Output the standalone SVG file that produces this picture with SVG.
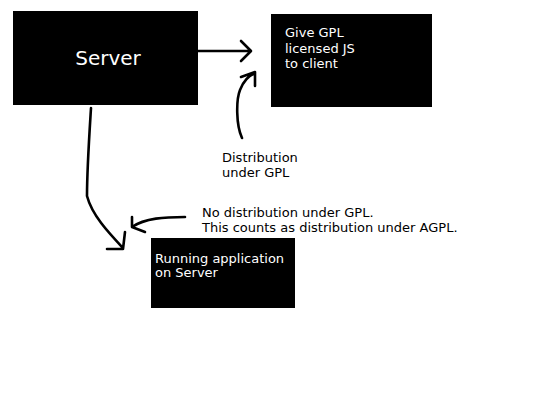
<svg xmlns="http://www.w3.org/2000/svg" width="540" height="405" viewBox="0 0 540 405">
<style>
.box{fill:#000}
.wt{fill:#fff;font-family:"DejaVu Sans",Verdana,sans-serif;font-size:13px}
.bt{fill:#000;font-family:"DejaVu Sans",Verdana,sans-serif;font-size:13px}
.ln{fill:none;stroke:#000;stroke-width:2.6;stroke-linecap:round;stroke-linejoin:round}
</style>
<rect width="540" height="405" fill="#fff"/>
<g id="server"><rect class="box" x="13" y="11" width="185" height="94"/><text class="wt" x="108" y="65" text-anchor="middle" style="font-size:20px">Server</text></g>
<g id="give"><rect class="box" x="271" y="14" width="161" height="93"/><text class="wt" x="285" y="37">Give GPL</text><text class="wt" x="285" y="53">licensed JS</text><text class="wt" x="285" y="68">to client</text></g>
<g id="running"><rect class="box" x="151" y="238" width="144" height="70"/><text class="wt" x="155" y="263">Running application</text><text class="wt" x="155" y="277">on Server</text></g>
<g id="labels"><text class="bt" x="222" y="162">Distribution</text><text class="bt" x="222" y="177">under GPL</text><text class="bt" x="202" y="217">No distribution under GPL.</text><text class="bt" x="202" y="232">This counts as distribution under AGPL.</text></g>
<g id="connectors">
<path class="ln" d="M198 51 L250 51 M241 41 L251 51 L241 61"/>
<path class="ln" d="M242 138 C236 125 236 100 240 90 C243 82 248 76 255 73 M241 77 L255 72 L255 86"/>
<path class="ln" d="M91 108 C89 140 87 170 87 196 C92 215 108 232 123 248 M107 249 L123 249 L125 232"/>
<path class="ln" d="M185 217 C165 217 145 218 132 227 M132 217 L132 227 L145 232"/>
</g>
</svg>
